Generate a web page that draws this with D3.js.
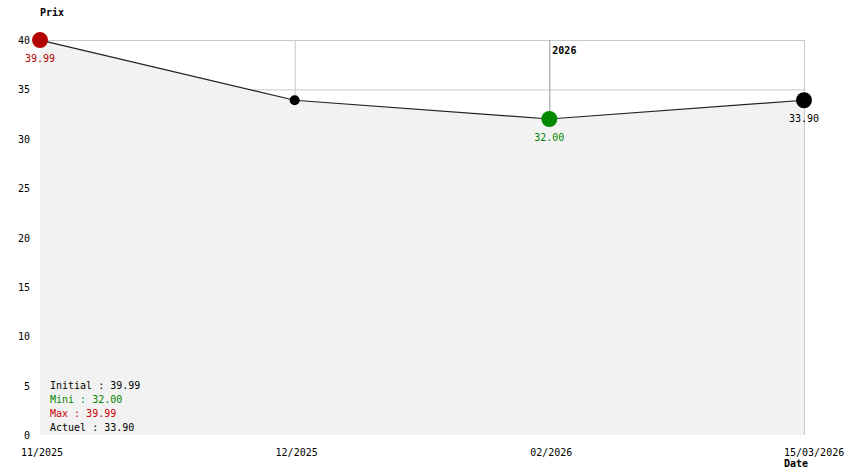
<!DOCTYPE html>
<html>
<head>
  <meta charset="UTF-8">
  <script src="https://d3js.org/d3.v7.min.js"></script>
  <title>Prix</title>
  <style type="text/css">
    html, body { margin:0; background:#fff; }
    svg text { font-family: "DejaVu Sans Mono", monospace; font-size: 10px; }
  </style>
</head>
<body>
<svg id="chart" width="844" height="474"></svg>
<script>
  // data
  var dates = ["11/2025", "12/2025", "02/2026", "15/03/2026"];
  var prices = [39.99, 33.90, 32.00, 33.90];
  var yTicks = [0, 5, 10, 15, 20, 25, 30, 35, 40];
  var legendLabels = ["Initial : 39.99", "Mini : 32.00", "Max : 39.99", "Actuel : 33.90"];
  var legendColors = ["#000", "#008800", "#cc0000", "#000"];
  var yearMarks = [{ date: "02/2026", label: "2026" }];

  var margin = {top: 40, left: 40},
      width = 764,
      height = 395;

  var svg = d3.select("#chart");
  var g = svg.append("g").attr("transform", "translate(" + margin.left + "," + margin.top + ")");

  var x = d3.scalePoint().domain(dates).range([0, width]);
  var y = d3.scaleLinear().domain([0, 40]).range([height, 0]);

  var data = dates.map(function(d, i) { return {date: d, value: prices[i]}; });

  // grid
  g.selectAll(".hgrid").data(yTicks.filter(function(t) { return t > 0; }))
    .enter().append("line")
    .attr("x1", 0).attr("x2", width)
    .attr("y1", function(d) { return y(d) + 0.5; }).attr("y2", function(d) { return y(d) + 0.5; })
    .attr("stroke", "#c8c8c8");
  g.selectAll(".vgrid").data(dates.slice(1))
    .enter().append("line")
    .attr("x1", function(d) { return x(d) + 0.5; }).attr("x2", function(d) { return x(d) + 0.5; })
    .attr("y1", 0).attr("y2", height)
    .attr("stroke", function(d) { return d == "02/2026" ? "#999" : "#c8c8c8"; });

  // area under line
  var area = d3.area()
    .x(function(d) { return x(d.date); })
    .y0(height)
    .y1(function(d) { return y(d.value); });
  g.append("path").datum(data).attr("d", area).attr("fill", "#f2f2f2");

  var line = d3.line()
    .x(function(d) { return x(d.date); })
    .y(function(d) { return y(d.value); });
  g.append("path").datum(data).attr("d", line)
    .attr("fill", "none").attr("stroke", "#222").attr("stroke-width", 1.2);

  // year labels
  g.selectAll(".year").data(yearMarks).enter().append("text")
    .attr("x", function(d) { return x(d.date) + 3; })
    .attr("y", 14)
    .attr("font-weight", "bold")
    .text(function(d) { return d.label; });

  // y axis labels
  g.selectAll(".ytick").data(yTicks).enter().append("text")
    .attr("x", -10)
    .attr("y", function(d) { return y(d) + 4; })
    .attr("text-anchor", "end")
    .text(function(d) { return d; });

  // x axis labels
  g.selectAll(".xtick").data(dates).enter().append("text")
    .attr("x", function(d, i) { return i == dates.length - 1 ? x(d) - 20 : x(d) + 2; })
    .attr("y", height + 21)
    .attr("text-anchor", function(d, i) { return i == dates.length - 1 ? "start" : "middle"; })
    .text(function(d) { return d; });

  // points
  var maxV = d3.max(prices), minV = d3.min(prices);
  function pointColor(d, i) {
    if (d.value == maxV && i == 0) return "#b30000";
    if (d.value == minV) return "#008800";
    return "#000";
  }
  function pointR(d, i) {
    if (i == 0 || i == data.length - 1 || d.value == minV) return 8;
    return 5;
  }
  g.selectAll(".pt").data(data).enter().append("circle")
    .attr("cx", function(d) { return x(d.date); })
    .attr("cy", function(d) { return y(d.value); })
    .attr("r", pointR)
    .attr("fill", pointColor);

  // value labels on highlighted points
  var labelled = [0, 2, 3];
  g.selectAll(".vlabel").data(labelled).enter().append("text")
    .attr("x", function(i) { return x(data[i].date); })
    .attr("y", function(i) { return y(data[i].value) + 22; })
    .attr("text-anchor", "middle")
    .attr("fill", function(i) { return i == 0 ? "#b30000" : (i == 2 ? "#008800" : "#000"); })
    .text(function(i) { return data[i].value.toFixed(2); });

  // legend
  g.selectAll(".legend").data(legendLabels).enter().append("text")
    .attr("x", 10)
    .attr("y", function(d, i) { return 349 + i * 14; })
    .attr("fill", function(d, i) { return legendColors[i]; })
    .text(function(d) { return d; });

  // axis titles
  svg.append("text").attr("x", 40).attr("y", 16).attr("font-weight", "bold").text("Prix");
  svg.append("text").attr("x", 784).attr("y", 467).attr("font-weight", "bold").text("Date");
</script>
</body>
</html>
